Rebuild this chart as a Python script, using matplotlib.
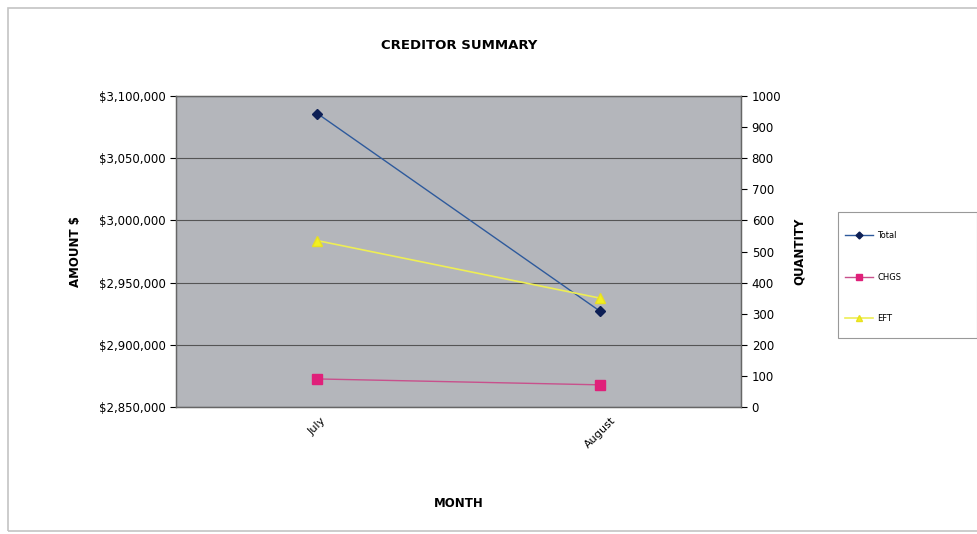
import matplotlib.pyplot as plt
import matplotlib.ticker as mticker

months = ["July", "August"]
total = [3086000, 2927000]
chgs = [90, 71]
eft = [535, 350]

fig = plt.figure(figsize=(9.78, 5.34), dpi=100)
fig.patch.set_facecolor("white")

# outer chart border (right edge is cut off in the scan)
fig.add_artist(plt.Rectangle((0.008, 0.005), 1.1, 0.98, transform=fig.transFigure,
                             fill=False, edgecolor="#c4c4c4", linewidth=1.2))

ax = fig.add_axes([0.18, 0.238, 0.578, 0.582])
ax.set_facecolor("#b4b6bb")
x = range(len(months))

ax.plot(x, total, color="#2e5a9c", marker="D", markersize=5,
        markerfacecolor="#0d1f55", markeredgecolor="#0d1f55", linewidth=1, label="Total")
ax.set_ylim(2850000, 3100000)
ax.set_yticks(range(2850000, 3100001, 50000))
ax.yaxis.set_major_formatter(mticker.FuncFormatter(lambda v, p: f"${v:,.0f}"))
ax.set_xlim(-0.5, 1.5)
ax.set_xticks(list(x))
ax.set_xticklabels(months, rotation=45, ha="center", va="top", fontsize=8)
ax.grid(axis="y", color="#555555", linewidth=0.8)
ax.set_axisbelow(True)
ax.tick_params(axis="y", labelsize=8.5, length=4, direction="out")
ax.tick_params(axis="x", length=0, pad=6)
for s in ax.spines.values():
    s.set_color("#666666")
    s.set_linewidth(1)

ax2 = ax.twinx()
ax2.plot(x, chgs, color="#c8508c", marker="s", markersize=7,
         markerfacecolor="#e0207a", markeredgecolor="#e0207a", linewidth=1, label="CHGS")
ax2.plot(x, eft, color="#eeee55", marker="^", markersize=7,
         markerfacecolor="#f2f020", markeredgecolor="#e8e020", linewidth=1.2, label="EFT")
ax2.set_ylim(0, 1000)
ax2.set_yticks(range(0, 1001, 100))
ax2.tick_params(axis="y", labelsize=8.5, length=4, direction="out")
for s in ax2.spines.values():
    s.set_color("#666666")

ax.set_ylabel("AMOUNT $", fontsize=8.5, fontweight="bold", labelpad=12)
ax2.set_ylabel("QUANTITY", fontsize=8.5, fontweight="bold", labelpad=8)
ax.set_xlabel("MONTH", fontsize=8.5, fontweight="bold", labelpad=34)
fig.text(0.47, 0.915, "CREDITOR SUMMARY", ha="center", va="center",
         fontsize=9.5, fontweight="bold")

# legend box is wide with empty space on the right, so draw the frame separately
fig.add_artist(plt.Rectangle((838 / 978, 1 - 338 / 534), 139 / 978, 126 / 534,
                             transform=fig.transFigure, fill=False,
                             edgecolor="#999999", linewidth=0.8))
handles = ax.get_lines() + ax2.get_lines()
leg = fig.legend(handles, [h.get_label() for h in handles], loc="upper left",
                 bbox_to_anchor=(845 / 978, 1 - 231 / 534), fontsize=6, frameon=False,
                 labelspacing=3.9, handlelength=3.4, handletextpad=0.5,
                 borderpad=0, markerscale=0.7, borderaxespad=0)

fig.savefig("out.png", dpi=100)
